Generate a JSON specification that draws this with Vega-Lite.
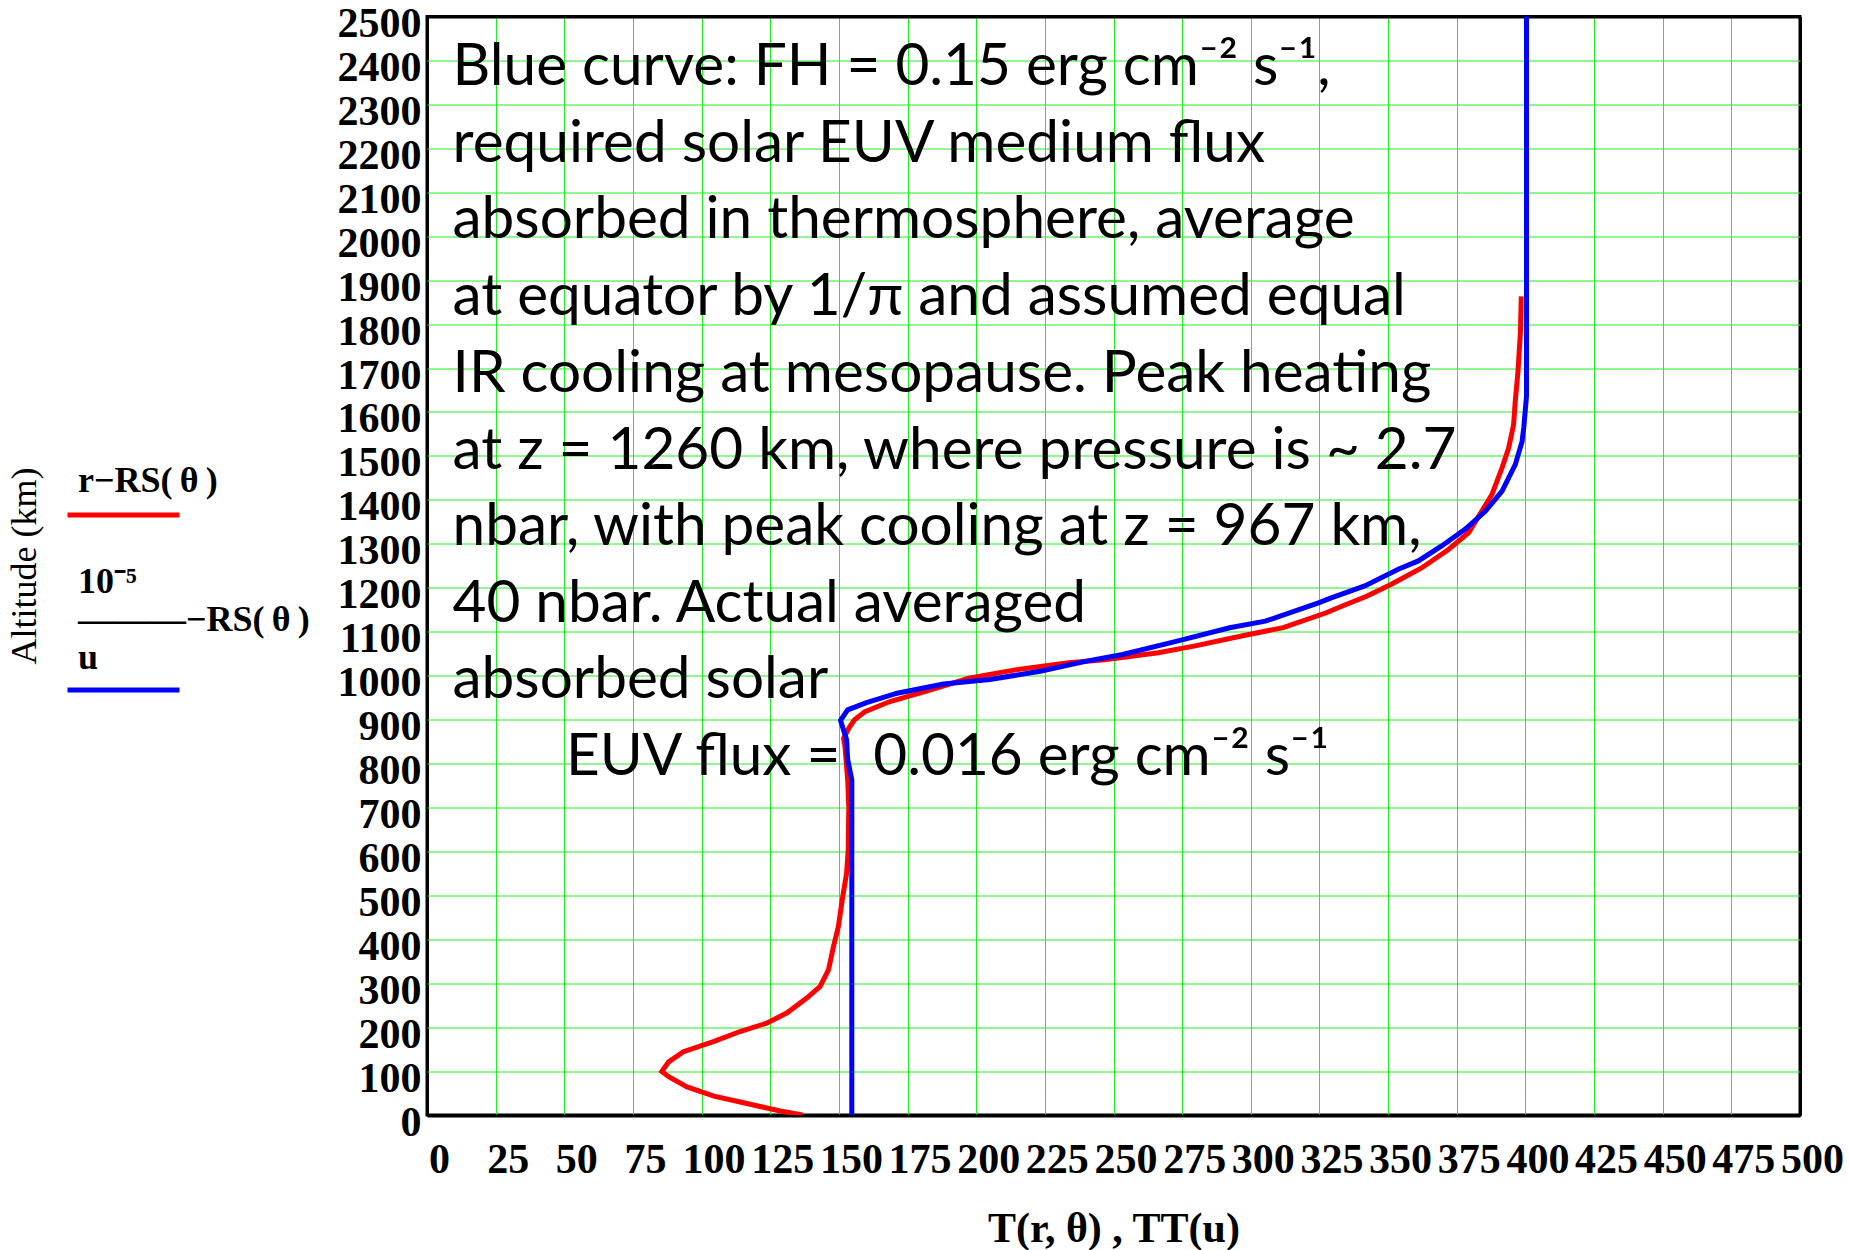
{
  "$schema": "https://vega.github.io/schema/vega-lite/v6.json",
  "width": 1373,
  "height": 1098.5,
  "autosize": {"type": "none"},
  "padding": {"left": 427, "top": 16.5, "right": 49, "bottom": 135},
  "background": "white",
  "config": {
    "view": {"stroke": "#000", "strokeWidth": 3},
    "font": "Liberation Serif"
  },
  "datasets": {
    "curves": [
      {"curve": "T(r,θ)", "T": 136.8, "alt": 0},
      {"curve": "T(r,θ)", "T": 128.6, "alt": 9},
      {"curve": "T(r,θ)", "T": 115.3, "alt": 28},
      {"curve": "T(r,θ)", "T": 104.5, "alt": 43},
      {"curve": "T(r,θ)", "T": 94.7, "alt": 64},
      {"curve": "T(r,θ)", "T": 88, "alt": 87},
      {"curve": "T(r,θ)", "T": 85.5, "alt": 99},
      {"curve": "T(r,θ)", "T": 88, "alt": 121},
      {"curve": "T(r,θ)", "T": 93.4, "alt": 144},
      {"curve": "T(r,θ)", "T": 104.3, "alt": 167},
      {"curve": "T(r,θ)", "T": 114, "alt": 190},
      {"curve": "T(r,θ)", "T": 123.7, "alt": 209},
      {"curve": "T(r,θ)", "T": 131, "alt": 232},
      {"curve": "T(r,θ)", "T": 138.3, "alt": 266},
      {"curve": "T(r,θ)", "T": 143.1, "alt": 292},
      {"curve": "T(r,θ)", "T": 146.2, "alt": 330},
      {"curve": "T(r,θ)", "T": 148, "alt": 383},
      {"curve": "T(r,θ)", "T": 149.8, "alt": 429},
      {"curve": "T(r,θ)", "T": 151.4, "alt": 497},
      {"curve": "T(r,θ)", "T": 152.8, "alt": 550},
      {"curve": "T(r,θ)", "T": 153.4, "alt": 604},
      {"curve": "T(r,θ)", "T": 153.6, "alt": 700},
      {"curve": "T(r,θ)", "T": 153.2, "alt": 763},
      {"curve": "T(r,θ)", "T": 152.2, "alt": 839},
      {"curve": "T(r,θ)", "T": 151.7, "alt": 857},
      {"curve": "T(r,θ)", "T": 153.6, "alt": 880},
      {"curve": "T(r,θ)", "T": 155.6, "alt": 899},
      {"curve": "T(r,θ)", "T": 159.5, "alt": 918},
      {"curve": "T(r,θ)", "T": 168.6, "alt": 941},
      {"curve": "T(r,θ)", "T": 181.6, "alt": 964},
      {"curve": "T(r,θ)", "T": 197.3, "alt": 994},
      {"curve": "T(r,θ)", "T": 214.2, "alt": 1013},
      {"curve": "T(r,θ)", "T": 233.7, "alt": 1029},
      {"curve": "T(r,θ)", "T": 246.7, "alt": 1036},
      {"curve": "T(r,θ)", "T": 266.3, "alt": 1052},
      {"curve": "T(r,θ)", "T": 279.3, "alt": 1067},
      {"curve": "T(r,θ)", "T": 298.8, "alt": 1093},
      {"curve": "T(r,θ)", "T": 311.8, "alt": 1109},
      {"curve": "T(r,θ)", "T": 327.5, "alt": 1143},
      {"curve": "T(r,θ)", "T": 334, "alt": 1160},
      {"curve": "T(r,θ)", "T": 342, "alt": 1180},
      {"curve": "T(r,θ)", "T": 351.2, "alt": 1208},
      {"curve": "T(r,θ)", "T": 362.2, "alt": 1245},
      {"curve": "T(r,θ)", "T": 372, "alt": 1287},
      {"curve": "T(r,θ)", "T": 379.3, "alt": 1325},
      {"curve": "T(r,θ)", "T": 384.1, "alt": 1374},
      {"curve": "T(r,θ)", "T": 387.8, "alt": 1412},
      {"curve": "T(r,θ)", "T": 391.5, "alt": 1473},
      {"curve": "T(r,θ)", "T": 393.9, "alt": 1518},
      {"curve": "T(r,θ)", "T": 395.7, "alt": 1571},
      {"curve": "T(r,θ)", "T": 396.3, "alt": 1624},
      {"curve": "T(r,θ)", "T": 397.3, "alt": 1692},
      {"curve": "T(r,θ)", "T": 398.2, "alt": 1783},
      {"curve": "T(r,θ)", "T": 398.5, "alt": 1863},
      {"curve": "TT(u)", "T": 154.7, "alt": 0},
      {"curve": "TT(u)", "T": 154.7, "alt": 763},
      {"curve": "TT(u)", "T": 153.2, "alt": 809},
      {"curve": "TT(u)", "T": 152.8, "alt": 854},
      {"curve": "TT(u)", "T": 150.6, "alt": 898},
      {"curve": "TT(u)", "T": 153.2, "alt": 922},
      {"curve": "TT(u)", "T": 159.8, "alt": 938},
      {"curve": "TT(u)", "T": 171.2, "alt": 960},
      {"curve": "TT(u)", "T": 188.1, "alt": 981},
      {"curve": "TT(u)", "T": 205, "alt": 991},
      {"curve": "TT(u)", "T": 223.3, "alt": 1010},
      {"curve": "TT(u)", "T": 240.2, "alt": 1033},
      {"curve": "TT(u)", "T": 253.3, "alt": 1048},
      {"curve": "TT(u)", "T": 272.8, "alt": 1078},
      {"curve": "TT(u)", "T": 292.3, "alt": 1109},
      {"curve": "TT(u)", "T": 305.3, "alt": 1124},
      {"curve": "TT(u)", "T": 324.9, "alt": 1166},
      {"curve": "TT(u)", "T": 329.3, "alt": 1177},
      {"curve": "TT(u)", "T": 341.5, "alt": 1204},
      {"curve": "TT(u)", "T": 353.7, "alt": 1242},
      {"curve": "TT(u)", "T": 361, "alt": 1261},
      {"curve": "TT(u)", "T": 369.5, "alt": 1295},
      {"curve": "TT(u)", "T": 378, "alt": 1333},
      {"curve": "TT(u)", "T": 385.4, "alt": 1374},
      {"curve": "TT(u)", "T": 391.5, "alt": 1420},
      {"curve": "TT(u)", "T": 396.3, "alt": 1480},
      {"curve": "TT(u)", "T": 398.8, "alt": 1533},
      {"curve": "TT(u)", "T": 399.4, "alt": 1564},
      {"curve": "TT(u)", "T": 400.4, "alt": 1636},
      {"curve": "TT(u)", "T": 400.4, "alt": 2500}
    ],
    "notes": [
      {"note": "Blue curve: FH = 0.15 erg cm⁻² s⁻¹,", "T": 9.3, "alt": 2344},
      {"note": "required solar EUV medium flux", "T": 9.3, "alt": 2169.5},
      {"note": "absorbed in thermosphere, average", "T": 9.3, "alt": 1995},
      {"note": "at equator by 1/π and assumed equal", "T": 9.3, "alt": 1820.4},
      {"note": "IR cooling at mesopause. Peak heating", "T": 9.3, "alt": 1646},
      {"note": "at z = 1260 km, where pressure is ~ 2.7", "T": 9.3, "alt": 1471},
      {"note": "nbar, with peak cooling at z = 967 km,", "T": 9.3, "alt": 1297},
      {"note": "40 nbar. Actual averaged", "T": 9.3, "alt": 1122},
      {"note": "absorbed solar", "T": 9.3, "alt": 948},
      {"note": "EUV flux =", "T": 50.6, "alt": 773},
      {"note": "0.016 erg cm⁻² s⁻¹", "T": 162.5, "alt": 773}
    ]
  },
  "layer": [
    {
      "data": {"name": "notes"},
      "mark": {"type": "text", "align": "left", "baseline": "alphabetic", "font": "Lato", "fontSize": 58.5, "color": "#000"},
      "encoding": {
        "x": {"field": "T", "type": "quantitative"},
        "y": {"field": "alt", "type": "quantitative"},
        "text": {"field": "note"}
      }
    },
    {
      "data": {"name": "curves"},
      "mark": {"type": "line", "strokeWidth": 5, "clip": true},
      "encoding": {
        "x": {
          "field": "T", "type": "quantitative",
          "scale": {"domain": [0, 500], "nice": false, "zero": false},
          "axis": {
            "values": [0,25,50,75,100,125,150,175,200,225,250,275,300,325,350,375,400,425,450,475,500],
            "format": "d",
            "grid": true,
            "gridColor": {"condition": {"test": "datum.value == 0 || datum.value == 500", "value": "#000"}, "value": "#22ee22"},
            "gridWidth": {"condition": {"test": "datum.value == 0 || datum.value == 500", "value": 3}, "value": 1},
            "gridOpacity": 1,
            "domain": false, "ticks": false, "tickSize": 0,
            "labelFont": "Liberation Serif", "labelFontWeight": "bold", "labelFontSize": 42, "labelColor": "#000",
            "labelOverlap": false, "labelPadding": 24, "labelOffset": 12, "labelFlush": false, "labelBound": false,
            "title": "T(r, θ) , TT(u)",
            "titleFont": "Liberation Serif", "titleFontWeight": "bold", "titleFontSize": 42, "titleColor": "#000",
            "titleBaseline": "alphabetic", "titleY": 126
          }
        },
        "y": {
          "field": "alt", "type": "quantitative",
          "scale": {"domain": [0, 2500], "nice": false, "zero": false},
          "axis": {
            "values": [0,100,200,300,400,500,600,700,800,900,1000,1100,1200,1300,1400,1500,1600,1700,1800,1900,2000,2100,2200,2300,2400,2500],
            "format": "d",
            "grid": true,
            "gridColor": {"condition": {"test": "datum.value == 0 || datum.value == 2500", "value": "#000"}, "value": "#22ee22"},
            "gridWidth": {"condition": {"test": "datum.value == 0 || datum.value == 2500", "value": 3}, "value": 1},
            "gridOpacity": 1,
            "domain": false, "ticks": false, "tickSize": 0,
            "labelFont": "Liberation Serif", "labelFontWeight": "bold", "labelFontSize": 42, "labelColor": "#000",
            "labelOverlap": false, "labelPadding": 6, "labelOffset": 7, "labelFlush": false, "labelBound": false,
            "title": "Altitude (km)",
            "titleFont": "Liberation Serif", "titleFontWeight": "normal", "titleFontSize": 36, "titleColor": "#000",
            "titleAngle": -90, "titleAlign": "center", "titleBaseline": "middle",
            "titleX": -403, "titleY": 549
          }
        },
        "order": {"field": "alt"},
        "color": {
          "field": "curve", "type": "nominal",
          "scale": {"domain": ["T(r,θ)", "TT(u)"], "range": ["#ff0000", "#0000ff"]},
          "legend": {
            "orient": "none", "legendX": -362, "legendY": 440,
            "title": null, "padding": 0, "offset": 0,
            "symbolType": "stroke", "symbolSize": 12544, "symbolStrokeWidth": 5,
            "labelFont": "Liberation Serif", "labelFontWeight": "bold", "labelFontSize": 36, "labelColor": "#000",
            "labelAlign": "left", "labelBaseline": "alphabetic", "labelOffset": -104, "labelLimit": 0,
            "rowPadding": 38,
            "labelExpr": "datum.label == 'TT(u)' ? ['\u200910⁻⁵', '———−RS(\u2009θ\u2009)', '\u00a0\u00a0\u00a0\u00a0u'] : 'r−RS(\u2009θ\u2009)'",
            "encoding": {"labels": {
              "lineHeight": {"value": 38},
              "dy": {"condition": {"test": "datum.label == 'TT(u)'", "value": -97}, "value": -23}
            }}
          }
        }
      }
    }
  ]
}
